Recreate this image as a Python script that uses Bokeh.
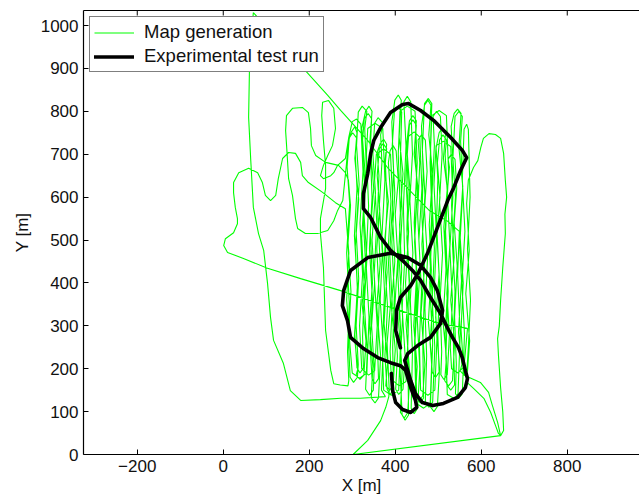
from bokeh.plotting import figure
from bokeh.models import Range1d, LinearAxis, FixedTicker, Legend, LegendItem
from bokeh.embed import file_html
from bokeh.resources import INLINE

# ---------------- data (metres) ----------------
x_ticks = [-200, 0, 200, 400, 600, 800]
y_ticks = [0, 100, 200, 300, 400, 500, 600, 700, 800, 900, 1000]
x_lim = [-325, 968]
y_lim = [0, 1035]

# Experimental test run (black)
run_x = [412, 401, 403, 412, 436, 454, 475, 498, 522, 536,
         552, 566, 556, 529, 489, 459, 431, 417, 389, 366,
         350, 343, 336, 326, 326, 343, 366, 389, 417, 440,
         459, 482, 505, 522, 533, 547, 556, 563, 568, 563,
         545, 512, 487, 463, 447, 436, 429, 422, 429, 452,
         482, 505, 510, 498, 482, 459, 429, 389, 336, 296,
         280, 277, 289, 296, 326, 359, 389, 412, 424, 436,
         447, 450, 436, 417, 401, 394, 391]
run_y = [249, 289, 336, 366, 394, 424, 469, 529, 592, 622,
         662, 692, 709, 739, 779, 802, 818, 816, 797, 762,
         732, 702, 655, 608, 573, 552, 506, 476, 452, 429,
         406, 366, 329, 294, 273, 249, 226, 196, 177, 156,
         133, 119, 114, 121, 142, 172, 196, 219, 235, 254,
         273, 305, 336, 382, 413, 441, 459, 469, 459, 429,
         382, 347, 312, 273, 247, 226, 214, 207, 196, 156,
         126, 110, 98, 105, 121, 149, 189]

# Map generation (green), in path order, split into pieces
west_x = [70, 66, 61, 59, 64, 70, 82, 94, 103, 110, 117, 140, 156, 180, 226, 273, 319, 377]
west_y = [1030, 985, 902, 786, 685, 576, 515, 476, 399, 319, 266, 212, 149, 126, 128, 131, 131, 135]

sweep_a_x = [368, 372, 365, 370, 363, 369, 366, 372, 360,
             352, 348, 354, 346, 352, 345, 351, 349, 340,
             331, 335, 328, 334, 327, 333, 329, 334, 323,
             314, 310, 316, 309, 315, 309, 314, 312, 303,
             295, 291, 297, 290, 296, 291, 284]
sweep_a_y = [150, 250, 360, 470, 580, 680, 745, 772, 785,
             772, 700, 610, 500, 400, 300, 200, 150, 138,
             152, 240, 350, 455, 565, 665, 760, 800, 812,
             798, 720, 630, 520, 410, 300, 210, 180, 168,
             180, 270, 380, 490, 580, 640, 657]

bump3_x = [268, 238, 215, 205, 203, 198, 184, 161, 147, 145, 148, 152, 161, 168, 173, 191, 219, 243, 257, 266, 278]
bump3_y = [674, 681, 697, 720, 760, 797, 809, 807, 790, 755, 709, 643, 604, 550, 527, 515, 515, 522, 545, 569, 592]

sweep_b_x = [286, 291, 298, 306,
             311, 306, 315, 307, 312, 305, 313, 309, 318,
             327, 332, 323, 331, 326, 330, 322, 331, 339,
             346, 341, 350, 342, 347, 340, 348, 344, 353,
             361, 366, 357, 365, 359, 362, 358, 365, 373,
             380, 375, 384, 376, 381, 374, 382, 378, 387,
             395, 400, 391, 399, 393, 396, 392, 399, 407,
             414, 409, 418, 410, 415, 408, 416, 412, 421,
             429, 434, 425, 433, 427, 430, 426, 433, 441,
             449, 444, 453, 445, 450, 443, 451, 447, 456,
             464, 469, 460, 468, 462, 465, 461, 468, 476,
             483, 478, 487, 479, 484, 477, 485, 481, 490,
             498, 503, 494, 502, 496, 499, 495, 502, 510,
             517, 512, 521, 513, 518, 511, 519, 515, 524,
             533, 538, 529, 537, 531, 534, 530, 537, 545,
             553, 548, 557, 549, 554, 547, 555, 551, 560,
             568, 573, 564, 572, 566, 570, 582]
sweep_b_y = [672, 730, 752, 764,
             750, 690, 595, 485, 385, 275, 200, 185, 175,
             185, 265, 350, 445, 540, 655, 760, 800, 812,
             800, 730, 620, 520, 400, 300, 205, 132, 120,
             132, 230, 345, 445, 565, 650, 705, 725, 735,
             723, 670, 590, 505, 425, 305, 215, 160, 150,
             160, 245, 345, 450, 570, 665, 775, 826, 838,
             826, 740, 655, 535, 430, 305, 195, 98, 85,
             98, 185, 305, 405, 525, 625, 720, 778, 790,
             778, 700, 620, 525, 425, 300, 205, 137, 125,
             137, 210, 330, 435, 555, 655, 765, 814, 826,
             814, 745, 655, 535, 430, 310, 220, 112, 100,
             112, 200, 320, 420, 540, 640, 715, 750, 762,
             750, 690, 620, 530, 430, 310, 225, 172, 160,
             172, 260, 360, 460, 580, 680, 765, 795, 805,
             795, 715, 625, 505, 405, 285, 210, 195, 185,
             195, 265, 375, 475, 585, 640, 669]

right_x = [592, 599, 605, 618, 633, 645, 652, 656, 659, 655, 656, 650, 645, 642, 638, 640, 645, 650, 652, 645,
           302, 336, 366, 378, 385]
right_y = [685, 716, 737, 748, 746, 737, 702, 639, 600, 560, 515, 436, 359, 300, 270, 231, 156, 100, 56, 44,
           0, 33, 79, 110, 135]

sweep_c_x = [386, 381, 389, 383, 390, 384, 388, 395,
             402, 407, 400, 406, 399, 405, 401, 408,
             418, 423, 416, 422, 419, 425, 420, 428,
             436, 440, 434, 441, 435, 440, 437, 444,
             452, 457, 451, 458, 452, 457, 453, 461,
             470, 474, 468, 475, 469, 473, 470, 478,
             487, 492, 486, 491, 485, 491, 488, 496,
             505, 509, 503, 510, 504, 508, 506, 513,
             521, 526, 520, 527, 521, 526, 523, 530,
             539, 543, 537, 544, 538, 542, 540, 547,
             556, 561, 555, 562, 556, 560, 566,
             570, 574, 568, 575, 570, 565,
             582, 606, 622, 633, 640, 645, 638, 626, 617, 598, 576]
sweep_c_y = [150, 260, 350, 470, 590, 680, 708, 720,
             708, 640, 560, 460, 345, 230, 152, 140,
             152, 230, 340, 455, 575, 720, 822, 835,
             822, 700, 590, 470, 360, 240, 108, 95,
             108, 200, 320, 440, 560, 680, 733, 745,
             733, 660, 570, 455, 340, 230, 122, 110,
             122, 250, 360, 480, 600, 720, 788, 800,
             788, 700, 590, 470, 355, 240, 186, 175,
             186, 280, 375, 490, 610, 670, 688, 700,
             688, 620, 540, 440, 320, 210, 142, 130,
             142, 280, 400, 520, 640, 758, 770,
             758, 600, 480, 360, 250, 170,
             154, 131, 98, 68, 49, 44, 75, 114, 145, 168, 178]

sweep_d_x = [560, 553, 558, 551, 557, 552, 556, 548,
             539, 534, 540, 533, 539, 535, 538, 529,
             520, 516, 522, 515, 521, 516, 519, 511,
             503, 498, 504, 497, 503, 499, 502, 494,
             486, 481, 487, 480, 486, 482, 485, 477,
             468, 463, 469, 462, 468, 464, 466, 458,
             450, 446, 452, 445, 451, 446, 449, 441,
             433, 428, 434, 427, 433, 429, 431, 423,
             416, 411, 417, 410, 416, 412, 415, 407,
             398, 393, 399, 392, 398, 394, 396, 388,
             381, 376, 382, 375, 381, 377, 380, 372,
             363, 358, 364, 357, 363, 359, 361, 353,
             346, 341, 347, 340, 346, 342, 345, 337,
             328, 323, 329, 322, 328, 324, 326, 318,
             311, 306, 312, 305, 311, 307, 310, 301,
             293, 288, 294, 287, 293, 289, 292,
             290, 272, 257, 250, 245, 238, 233, 226, 226, 238, 238, 233, 229,
             231, 245, 257, 261, 254, 243, 233, 226, 233, 250, 257, 266, 284]
sweep_d_y = [185, 290, 400, 505, 615, 730, 788, 800,
             788, 690, 600, 490, 380, 270, 162, 150,
             162, 280, 390, 500, 610, 700, 733, 745,
             733, 680, 600, 510, 400, 280, 192, 180,
             192, 260, 350, 465, 580, 720, 818, 830,
             818, 710, 605, 490, 380, 260, 132, 120,
             132, 265, 380, 495, 610, 720, 768, 780,
             768, 700, 620, 505, 390, 250, 92, 80,
             92, 200, 320, 440, 560, 690, 798, 810,
             798, 720, 610, 495, 375, 250, 152, 140,
             152, 230, 345, 460, 580, 680, 713, 725,
             713, 650, 570, 480, 365, 245, 177, 165,
             177, 260, 360, 480, 600, 710, 783, 795,
             783, 720, 620, 505, 390, 275, 202, 190,
             202, 280, 395, 510, 620, 700, 738, 750,
             738, 670, 585, 470, 355, 240, 172,
             160, 162, 165, 196, 235, 289, 436, 515, 550, 620, 674, 732, 790,
             821, 825, 807, 760, 720, 697, 674, 650, 643, 650, 657, 674, 690]

sweep_e_x = [292, 300, 310,
             320, 325, 318, 324, 317, 322, 338,
             352, 358, 351, 357, 352, 356, 373,
             389, 394, 387, 393, 388, 391, 409,
             425, 430, 424, 431, 425, 429, 444,
             457, 462, 455, 461, 456, 459, 476,
             492, 497, 491, 496, 490, 495, 512,
             529, 534, 527, 533, 528, 531, 546,
             560, 564, 568,
             505, 389, 273, 180, 103, 47, 10, 1, 5, 24,
             33, 33, 28, 24, 24, 36, 59, 80, 91, 98,
             110, 122, 128, 138, 152, 168, 180, 184, 198, 231,
             261, 284]
sweep_e_y = [740, 776, 782,
             770, 660, 540, 420, 300, 200, 185,
             195, 300, 420, 540, 640, 700, 712,
             700, 590, 470, 350, 240, 175, 160,
             170, 280, 400, 520, 640, 740, 752,
             740, 620, 500, 380, 260, 150, 138,
             150, 270, 390, 510, 630, 720, 730,
             718, 600, 480, 360, 250, 200, 190,
             205, 250, 294,
             305, 343, 382, 410, 434, 457, 471, 487, 503, 517,
             538, 550, 576, 610, 634, 657, 667, 657, 634, 604,
             592, 604, 643, 690, 704, 702, 681, 650, 634, 611,
             587, 573]

sweep_f_x = [292, 287, 295, 300, 317,
             334, 339, 332, 338, 333, 336, 353,
             371, 376, 369, 375, 370, 373, 391,
             408, 413, 406, 412, 407, 411, 428,
             446, 451, 444, 450, 445, 448, 466,
             482, 487, 480, 486, 481, 485, 502,
             519, 524, 517, 523, 518, 521, 538,
             546, 551, 545, 549,
             520, 480, 382, 336, 273, 243, 180, 120, 70]
sweep_f_y = [470, 360, 250, 190, 178,
             190, 320, 450, 580, 700, 760, 772,
             760, 640, 510, 380, 250, 150, 138,
             150, 280, 420, 560, 700, 800, 812,
             800, 680, 540, 400, 260, 120, 108,
             120, 260, 400, 540, 680, 790, 802,
             790, 660, 520, 380, 240, 140, 130,
             142, 280, 420, 520,
             545, 568, 669, 732, 802, 837, 907, 975, 1030]

map_x = (west_x + sweep_a_x + bump3_x + sweep_b_x + right_x + sweep_c_x
         + sweep_d_x + sweep_e_x + sweep_f_x)
map_y = (west_y + sweep_a_y + bump3_y + sweep_b_y + right_y + sweep_c_y
         + sweep_d_y + sweep_e_y + sweep_f_y)

# ---------------- figure ----------------
FONT = "Liberation Sans"
FS = "17px"
INK = "#111111"

p = figure(width=639, height=502,
           x_range=Range1d(x_lim[0], x_lim[1]), y_range=Range1d(y_lim[0], y_lim[1]),
           output_backend="svg", toolbar_location=None,
           min_border_left=83, min_border_right=0,
           min_border_top=10, min_border_bottom=48)
p.outline_line_color = None
p.xgrid.visible = False
p.ygrid.visible = False
p.background_fill_color = "white"
p.border_fill_color = "white"

xa = p.below[0]
ya = p.left[0]

g = p.line(map_x, map_y, line_color="#00ff00", line_width=1.1)
b = p.line(run_x, run_y, line_color="black", line_width=3.6,
           line_join="round", line_cap="round")

# top frame edge: an axis without ticks/labels, plus inward tick marks
top = LinearAxis(ticker=FixedTicker(ticks=[]))
top.major_tick_line_color = None
top.minor_tick_line_color = None
top.axis_line_color = "black"
top.axis_line_width = 1.2
p.add_layout(top, "above")
tick_len = 5 * (y_lim[1] - y_lim[0]) / 444.0
p.segment(x0=x_ticks, y0=[y_lim[1]] * len(x_ticks),
          x1=x_ticks, y1=[y_lim[1] - tick_len] * len(x_ticks),
          line_color="black", line_width=1)

for ax, ticks in ((xa, x_ticks), (ya, y_ticks)):
    ax.ticker = FixedTicker(ticks=ticks)
    ax.major_tick_in = 5
    ax.major_tick_out = 0
    ax.minor_tick_line_color = None
    ax.axis_line_color = "black"
    ax.axis_line_width = 1.2
    ax.major_tick_line_color = "black"
    ax.major_label_text_font = FONT
    ax.major_label_text_font_size = FS
    ax.major_label_text_color = INK
    ax.axis_label_text_font = FONT
    ax.axis_label_text_font_size = FS
    ax.axis_label_text_font_style = "normal"
    ax.axis_label_text_color = INK

xa.major_label_overrides = {-200: "\u2212200"}
xa.axis_label = "X [m]"
xa.major_label_standoff = 5
xa.axis_label_standoff = 1
ya.axis_label = "Y [m]"
ya.major_label_standoff = 5
ya.axis_label_standoff = 6

legend = Legend(items=[LegendItem(label="Map generation", renderers=[g]),
                       LegendItem(label="Experimental test run", renderers=[b])],
                location="top_left")
legend.margin = 6
legend.padding = 4
legend.spacing = 2
legend.glyph_width = 40
legend.glyph_height = 19
legend.label_height = 19
legend.label_standoff = 10
legend.label_text_font = FONT
legend.label_text_font_size = "18.5px"
legend.label_text_color = INK
legend.border_line_color = "black"
legend.border_line_width = 1.2
legend.background_fill_color = "white"
legend.background_fill_alpha = 1.0
p.add_layout(legend)

open("out.html", "w").write(file_html(p, INLINE))
